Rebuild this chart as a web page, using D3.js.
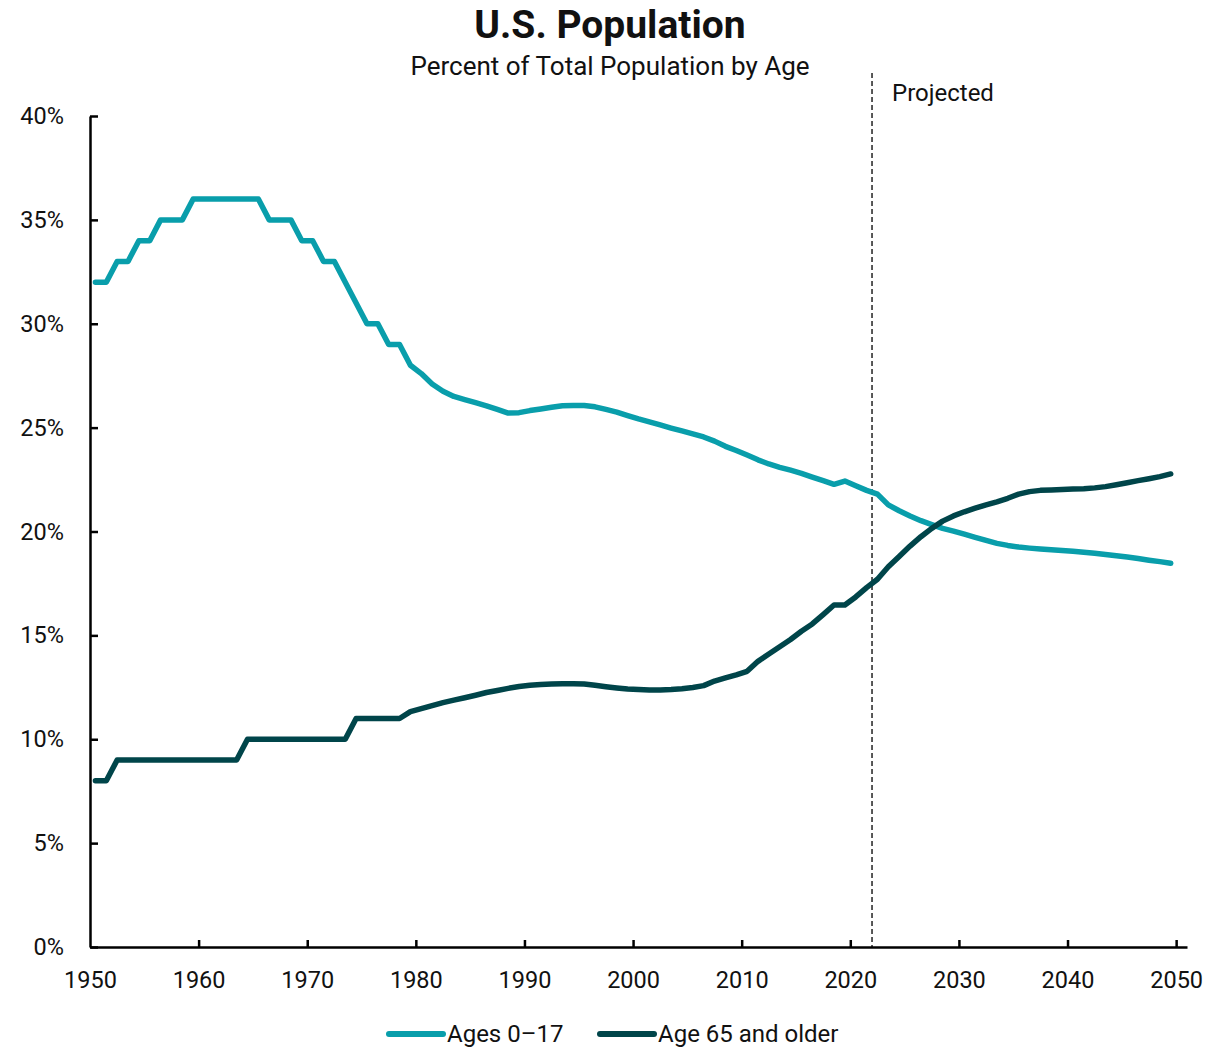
<!DOCTYPE html>
<html>
<head>
<meta charset="utf-8">
<script src="https://cdn.jsdelivr.net/npm/d3@7"></script>
<style>
  body { margin: 0; background: #fff; }
  text { font-family: Roboto, "Noto Sans", sans-serif; fill: #111; }
</style>
</head>
<body>
<div id="chart"></div>
<script>
// yearly values, 1950 .. 2049
let years = d3.range(1950, 2050);

let youth = [
  32, 32, 33, 33, 34, 34, 35, 35, 35, 36,
  36, 36, 36, 36, 36, 36, 35, 35, 35, 34,
  34, 33, 33, 32, 31, 30, 30, 29, 29, 28,
  27.6, 27.1, 26.75, 26.5, 26.35, 26.2, 26.05, 25.88, 25.7, 25.72,
  25.82, 25.9, 25.98, 26.05, 26.07, 26.06, 26.0, 25.88, 25.75, 25.58,
  25.42, 25.28, 25.13, 24.98, 24.84, 24.7, 24.55, 24.35, 24.1, 23.9,
  23.68, 23.45, 23.25, 23.09, 22.95, 22.8, 22.62, 22.45, 22.27, 22.43,
  22.2, 21.98, 21.8, 21.28, 21.0, 20.75, 20.52, 20.33, 20.15, 20.02,
  19.87, 19.72, 19.57, 19.43, 19.33, 19.25, 19.2, 19.16, 19.12, 19.09,
  19.05, 19.0, 18.95, 18.89, 18.83, 18.77, 18.7, 18.62, 18.55, 18.47
];

let elderly = [
  8, 8, 9, 9, 9, 9, 9, 9, 9, 9,
  9, 9, 9, 9, 10, 10, 10, 10, 10, 10,
  10, 10, 10, 10, 11, 11, 11, 11, 11, 11.33,
  11.47, 11.62, 11.76, 11.88, 12.0, 12.12, 12.25, 12.35, 12.45, 12.54,
  12.6, 12.64, 12.66, 12.67, 12.67, 12.66, 12.6, 12.53, 12.47, 12.42,
  12.39, 12.37, 12.37, 12.39, 12.43, 12.49, 12.58, 12.8, 12.95, 13.1,
  13.27, 13.75, 14.1, 14.45, 14.8, 15.2, 15.55, 16.0, 16.46, 16.46,
  16.85, 17.3, 17.7, 18.3, 18.8, 19.3, 19.75, 20.15, 20.5, 20.75,
  20.95, 21.12, 21.28, 21.43, 21.6, 21.8, 21.92, 21.98, 22.0, 22.02,
  22.04, 22.06, 22.1, 22.16, 22.25, 22.35, 22.45, 22.54, 22.64, 22.77
];

let xTicks = d3.range(1950, 2051, 10);
let yTicks = d3.range(0, 41, 5);
let projectedYear = 2022;

let seriesNames = ["Ages 0\u201317", "Age 65 and older"];
let seriesColors = ["#099eab", "#00454a"];

let width = 1222, height = 1048;
let margin = {top: 116, left: 90, right: 35, bottom: 101};

let svg = d3.select("#chart")
  .append("svg")
  .attr("width", width)
  .attr("height", height);

let x = d3.scaleLinear()
  .domain([1950, 2051])
  .range([margin.left, 1187]);

let y = d3.scaleLinear()
  .domain([0, 40])
  .range([height - margin.bottom, margin.top]);

// title
svg.append("text")
  .attr("x", 610)
  .attr("y", 38)
  .attr("text-anchor", "middle")
  .style("font-size", "39px")
  .style("font-weight", "bold")
  .text("U.S. Population");

svg.append("text")
  .attr("x", 610)
  .attr("y", 75)
  .attr("text-anchor", "middle")
  .style("font-size", "26px")
  .text("Percent of Total Population by Age");

// projected marker
svg.append("line")
  .attr("x1", x(projectedYear))
  .attr("x2", x(projectedYear))
  .attr("y1", 73)
  .attr("y2", y(0))
  .attr("stroke", "#000")
  .attr("stroke-width", 1.3)
  .attr("stroke-dasharray", "5,3");

svg.append("text")
  .attr("x", x(projectedYear) + 20)
  .attr("y", 101)
  .style("font-size", "24px")
  .text("Projected");

// lines
let line = d3.line()
  .x((d, i) => x(years[i] + 0.5))
  .y(d => y(d));

[youth, elderly].forEach((s, k) => {
  svg.append("path")
    .datum(s)
    .attr("fill", "none")
    .attr("stroke", seriesColors[k])
    .attr("stroke-width", 5.5)
    .attr("stroke-linejoin", "round")
    .attr("stroke-linecap", "round")
    .attr("d", line);
});

// axes
let xAxis = d3.axisBottom(x)
  .tickValues(xTicks)
  .tickFormat(d3.format("d"))
  .tickSizeInner(-7)
  .tickSizeOuter(0)
  .tickPadding(24);

let yAxis = d3.axisLeft(y)
  .tickValues(yTicks)
  .tickFormat(d => d + "%")
  .tickSizeInner(-8)
  .tickSizeOuter(0)
  .tickPadding(26);

let gx = svg.append("g")
  .attr("transform", `translate(0,${y(0)})`)
  .call(xAxis);

let gy = svg.append("g")
  .attr("transform", `translate(${margin.left},0)`)
  .call(yAxis);

[gx, gy].forEach(g => {
  g.selectAll("path, line").attr("stroke", "#000").attr("stroke-width", 2.5);
  g.selectAll("text").style("font-size", "23.5px").style("font-family", "Roboto, sans-serif").attr("fill", "#111");
});
gx.selectAll(".tick").filter(d => d === 1950).select("line").remove();

// legend
let legend = svg.append("g");
let legendX = [389, 600];
seriesNames.forEach((name, k) => {
  legend.append("line")
    .attr("x1", legendX[k])
    .attr("x2", legendX[k] + 54)
    .attr("y1", 1034)
    .attr("y2", 1034)
    .attr("stroke", seriesColors[k])
    .attr("stroke-width", 6)
    .attr("stroke-linecap", "round");
  legend.append("text")
    .attr("x", legendX[k] + 58)
    .attr("y", 1042)
    .style("font-size", "24px")
    .text(name);
});
</script>
</body>
</html>
